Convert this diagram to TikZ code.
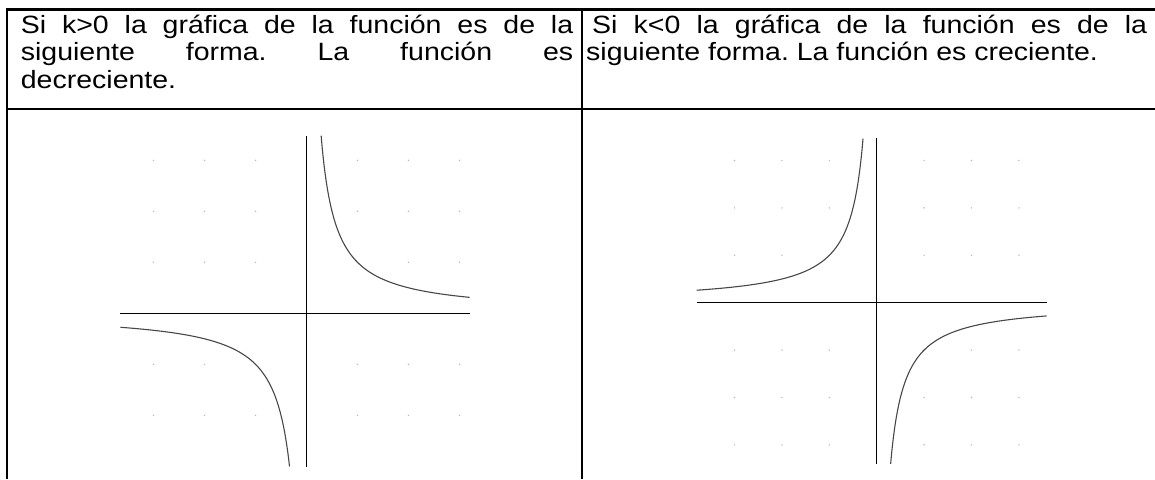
\documentclass[tikz,border=0pt]{standalone}
\usepackage{fontspec}
\setmainfont{Liberation Sans}
\usepackage{graphicx}
\newcommand{\sxf}{1.14}
\frenchspacing
\begin{document}
\begin{tikzpicture}[x=1pt,y=-1pt,
  rule/.style={line width=2.4pt,black},
  axisline/.style={line width=1pt,black},
  curveline/.style={line width=1.1pt,black!72},
  gdot/.style={fill=black!28},
  txt/.style={anchor=base west,inner sep=0pt,font=\fontsize{25}{27}\selectfont}]
\useasboundingbox (0,0) rectangle (1155,479);
% table rules
\draw[rule] (5.8,9.5) -- (1155,9.5);
\draw[rule] (7,8.3) -- (7,479);
\draw[rule] (5.8,109) -- (1155,109);
\draw[line width=2pt] (581.5,9.5) -- (581.5,479);
% header texts
\node[txt] (l1) at (20.7,33) {\scalebox{\sxf}[1]{\makebox[484.5pt][s]{Si k>0 la gráfica de la función es de la}}};
\node[txt] (l2) at (20.7,60.5) {\scalebox{\sxf}[1]{\makebox[484.5pt][s]{siguiente forma. La función es}}};
\node[txt] (l3) at (20.7,88) {\scalebox{\sxf}[1]{decreciente.}};
\node[txt] (r1) at (592,33) {\scalebox{\sxf}[1]{\makebox[486.8pt][s]{Si k<0 la gráfica de la función es de la}}};
\node[txt] (r2) at (586,60.5) {\scalebox{\sxf}[1]{siguiente forma. La función es creciente.}};
% left graph: y = 1/x
\begin{scope}[shift={(306.5pt,-313.3pt)},x=51pt,y=51pt]
  \foreach \i in {-3,-2,-1,1,2,3}{
    \foreach \j in {-2,-1,1,2,3}{
      \fill[gdot] (\i,\j) circle (0.8pt);
    }
  }
  \draw[axisline] (-3.65,0) -- (3.20,0);
  \draw[axisline] (0,3.48) -- (0,-3.01);
  \draw[curveline] plot[domain=0.287:3.2,samples=150,smooth] (\x,{1/\x});
  \draw[curveline] plot[domain=-3.65:-0.332,samples=150,smooth] (\x,{1/\x});
\end{scope}
% right graph: y = -1/x
\begin{scope}[shift={(876.7pt,-302.7pt)},x=47.4pt,y=47.4pt]
  \foreach \i in {-3,-2,-1,1,2,3}{
    \foreach \j in {-3,-2,-1,1,2,3}{
      \fill[gdot] (\i,\j) circle (0.8pt);
    }
  }
  \draw[axisline] (-3.797,0) -- (3.586,0);
  \draw[axisline] (0,3.475) -- (0,-3.403);
  \draw[curveline] plot[domain=-3.797:-0.288,samples=150,smooth] (\x,{-1/\x});
  \draw[curveline] plot[domain=0.294:3.586,samples=150,smooth] (\x,{-1/\x});
\end{scope}
\end{tikzpicture}
\end{document}
